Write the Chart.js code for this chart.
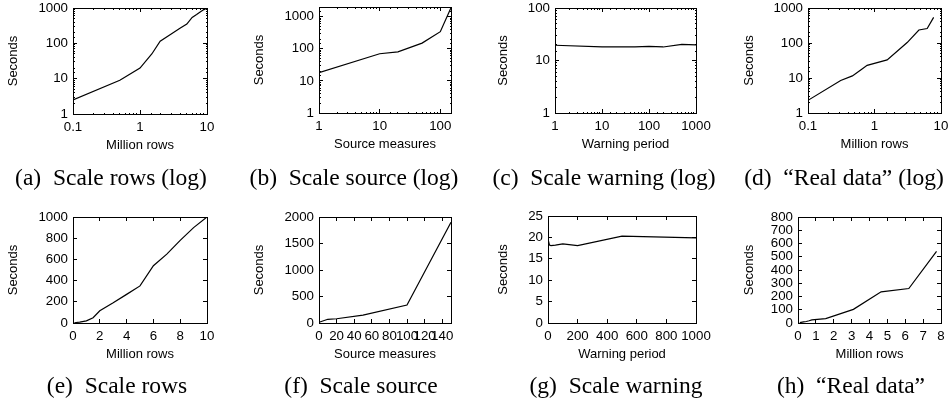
<!DOCTYPE html>
<html><head><meta charset="utf-8">
<script src="https://cdn.jsdelivr.net/npm/chart.js@4.4.1/dist/chart.umd.min.js"></script>
<style>
html,body{margin:0;padding:0;background:#fff;}
#wrap{position:relative;width:951px;height:400px;overflow:hidden;background:#fff;}
canvas{position:absolute;}
.cap{position:absolute;width:320px;text-align:center;font-family:'Liberation Serif','Times New Roman',serif;font-size:23.5px;line-height:26px;color:#000;white-space:pre;}
</style></head><body><div id="wrap"></div>
<script>
// ---- data ----
const rowsMillion   = [0.1, 0.5, 1, 1.5, 2, 3, 4, 5, 6, 7, 8, 9, 10];
const rowsSeconds   = [2.5, 9, 20, 50, 115, 190, 270, 350, 540, 650, 780, 900, 1000];
const sourceMeasures = [1, 10, 20, 50, 100, 150];
const sourceSeconds  = [18, 70, 80, 150, 340, 1900];
const warningPeriod  = [1, 10, 20, 50, 100, 200, 500, 1000];
const warningSeconds = [19.5, 18.2, 18.1, 18.2, 18.5, 18.1, 20.3, 19.9];
const realMillion = [0.1, 0.31, 0.465, 0.62, 0.775, 1.55, 3.1, 4.65, 6.2, 7.75];
const realSeconds = [2.3, 8.5, 11.5, 17, 23, 33, 103, 235, 260, 540];

// ---- tick labels ----
const logRowsTicks   = [0.1, 1, 10];
const logSourceTicks = [1, 10, 100];
const logWarnTicks   = [1, 10, 100, 1000];
const logSec1000Ticks = [1, 10, 100, 1000];
const logSec100Ticks  = [1, 10, 100];
const linRowsTicks   = [0, 2, 4, 6, 8, 10];
const linRowsSecTicks = [0, 200, 400, 600, 800, 1000];
const linSourceTicks = [0, 20, 40, 60, 80, 100, 120, 140];
const linSourceSecTicks = [0, 500, 1000, 1500, 2000];
const linWarnTicks   = [0, 200, 400, 600, 800, 1000];
const linWarnSecTicks = [0, 5, 10, 15, 20, 25];
const linRealTicks   = [0, 1, 2, 3, 4, 5, 6, 7, 8];
const linRealSecTicks = [0, 100, 200, 300, 400, 500, 600, 700, 800];

const captions = ['(a)  Scale rows (log)', '(b)  Scale source (log)', '(c)  Scale warning (log)', '(d)  \u201CReal data\u201D (log)',
                  '(e)  Scale rows', '(f)  Scale source', '(g)  Scale warning', '(h)  \u201CReal data\u201D'];
const yTitle = 'Seconds';

// ---- panels ----
const panels = [
  {xs: rowsMillion, ys: rowsSeconds, xt: 'logarithmic', yt: 'logarithmic', xr: [0.1, 10], yr: [1, 1000], xl: logRowsTicks, yl: logSec1000Ticks, title: 'Million rows'},
  {xs: sourceMeasures, ys: sourceSeconds, xt: 'logarithmic', yt: 'logarithmic', xr: [1, 150], yr: [1, 2000], xl: logSourceTicks, yl: logSec1000Ticks, title: 'Source measures'},
  {xs: warningPeriod, ys: warningSeconds, xt: 'logarithmic', yt: 'logarithmic', xr: [1, 1000], yr: [1, 100], xl: logWarnTicks, yl: logSec100Ticks, title: 'Warning period'},
  {xs: realMillion, ys: realSeconds, xt: 'logarithmic', yt: 'logarithmic', xr: [0.1, 10], yr: [1, 1000], xl: logRowsTicks, yl: logSec1000Ticks, title: 'Million rows'},
  {xs: rowsMillion, ys: rowsSeconds, xt: 'linear', yt: 'linear', xr: [0, 10], yr: [0, 1000], xl: linRowsTicks, yl: linRowsSecTicks, title: 'Million rows'},
  {xs: sourceMeasures, ys: sourceSeconds, xt: 'linear', yt: 'linear', xr: [0, 150], yr: [0, 2000], xl: linSourceTicks, yl: linSourceSecTicks, title: 'Source measures'},
  {xs: warningPeriod, ys: warningSeconds, xt: 'linear', yt: 'linear', xr: [0, 1000], yr: [0, 25], xl: linWarnTicks, yl: linWarnSecTicks, title: 'Warning period'},
  {xs: realMillion, ys: realSeconds, xt: 'linear', yt: 'linear', xr: [0, 8], yr: [0, 800], xl: linRealTicks, yl: linRealSecTicks, title: 'Million rows'}
];

// ---- layout (page pixels) ----
const cells = [[0,0,237,200],[237,0,238,200],[475,0,237,200],[712,0,239,200],
               [0,200,237,200],[237,200,238,200],[475,200,237,200],[712,200,239,200]];
const plotBoxes = [ // L, R, T, B, ytitle centre x
  [73,207,8,114,13],[319,451,7,113,259],[555,696,8,113,503],[808,941,8,113,749],
  [73,207,217,323,13],[319,451,217,323,259],[548,696,216,323,503],[798,941,217,323,749]];
const capPos = [[111,177],[354,177],[604,177],[844,177],[117,385],[361,385],[616,385],[851,385]];

const FONT = "'Liberation Sans', Arial, Helvetica, sans-serif";
const TICKFS = 13.3, TITLEFS = 13;
const TL = -4;
function isLabel(v, labels) { return labels.some(l => Math.abs(v - l) <= Math.abs(l) * 1e-6 + 1e-9); }

function axis(kind, type, range, labels, position, main, title, lay) {
  const isLog = type === 'logarithmic';
  const startInside = position === 'top' || position === 'left';
  const o = {
    type, position, axis: kind, min: range[0], max: range[1], display: true,
    grid: {
      drawOnChartArea: false, drawTicks: true, tickLength: TL, tickColor: '#000', tickWidth: 1,
      tickBorderDash: ctx => (isLog && ctx.tick && !isLabel(ctx.tick.value, labels)) ? [2, 100] : [],
      tickBorderDashOffset: startInside ? 100 : 0
    },
    border: {display: true, color: '#000', width: 1},
    ticks: {
      display: main, autoSkip: false, maxRotation: 0, minRotation: 0, color: '#000',
      font: {family: FONT, size: TICKFS},
      padding: kind === 'x' ? 9 : 9,
      callback: v => isLabel(v, labels) ? String(v) : ''
    },
    title: main ? {display: true, text: title, color: '#000', font: {family: FONT, size: TITLEFS},
      padding: kind === 'x' ? {top: 0, bottom: 0} : {top: lay.yTitlePad, bottom: 0}} : {display: false},
    afterFit: s => {
      if (kind === 'x') s.height = main ? lay.xAxisH : 0; else s.width = main ? lay.yAxisW : 0;
      s.paddingLeft = 0; s.paddingRight = 0; s.paddingTop = 0; s.paddingBottom = 0;
    }
  };
  if (!isLog) o.afterBuildTicks = s => { s.ticks = labels.map(v => ({value: v})); };
  return o;
}

const wrap = document.getElementById('wrap');
panels.forEach((p, i) => {
  const [cl, ct, cw, ch] = cells[i];
  const [L, R, T, B, tx] = plotBoxes[i];
  const xAxisH = 39.5;
  const lay = {yAxisW: L - cl, xAxisH, yTitlePad: tx - cl - TITLEFS * 1.2 / 2};
  const cv = document.createElement('canvas');
  cv.width = cw; cv.height = ch;
  cv.style.left = cl + 'px'; cv.style.top = ct + 'px';
  cv.style.width = cw + 'px'; cv.style.height = ch + 'px';
  wrap.appendChild(cv);
  new Chart(cv, {
    type: 'line',
    data: {datasets: [{
      data: p.xs.map((x, k) => ({x: x, y: p.ys[k]})),
      borderColor: '#000', borderWidth: 1.2, pointRadius: 0, tension: 0, fill: false,
      xAxisID: 'x', yAxisID: 'y'
    }]},
    options: {
      responsive: false, animation: false, devicePixelRatio: 1,
      layout: {padding: {left: 0, top: T - ct, right: cl + cw - R, bottom: ct + ch - B - xAxisH}},
      plugins: {legend: {display: false}, tooltip: {enabled: false}},
      scales: {
        x: axis('x', p.xt, p.xr, p.xl, 'bottom', true, p.title, lay),
        y: axis('y', p.yt, p.yr, p.yl, 'left', true, yTitle, lay),
        x2: axis('x', p.xt, p.xr, p.xl, 'top', false, '', lay),
        y2: axis('y', p.yt, p.yr, p.yl, 'right', false, '', lay)
      }
    }
  });
  const cap = document.createElement('div');
  cap.className = 'cap';
  cap.textContent = captions[i];
  cap.style.left = (capPos[i][0] - 160) + 'px';
  cap.style.top = (capPos[i][1] - 13) + 'px';
  wrap.appendChild(cap);
});
</script></body></html>
